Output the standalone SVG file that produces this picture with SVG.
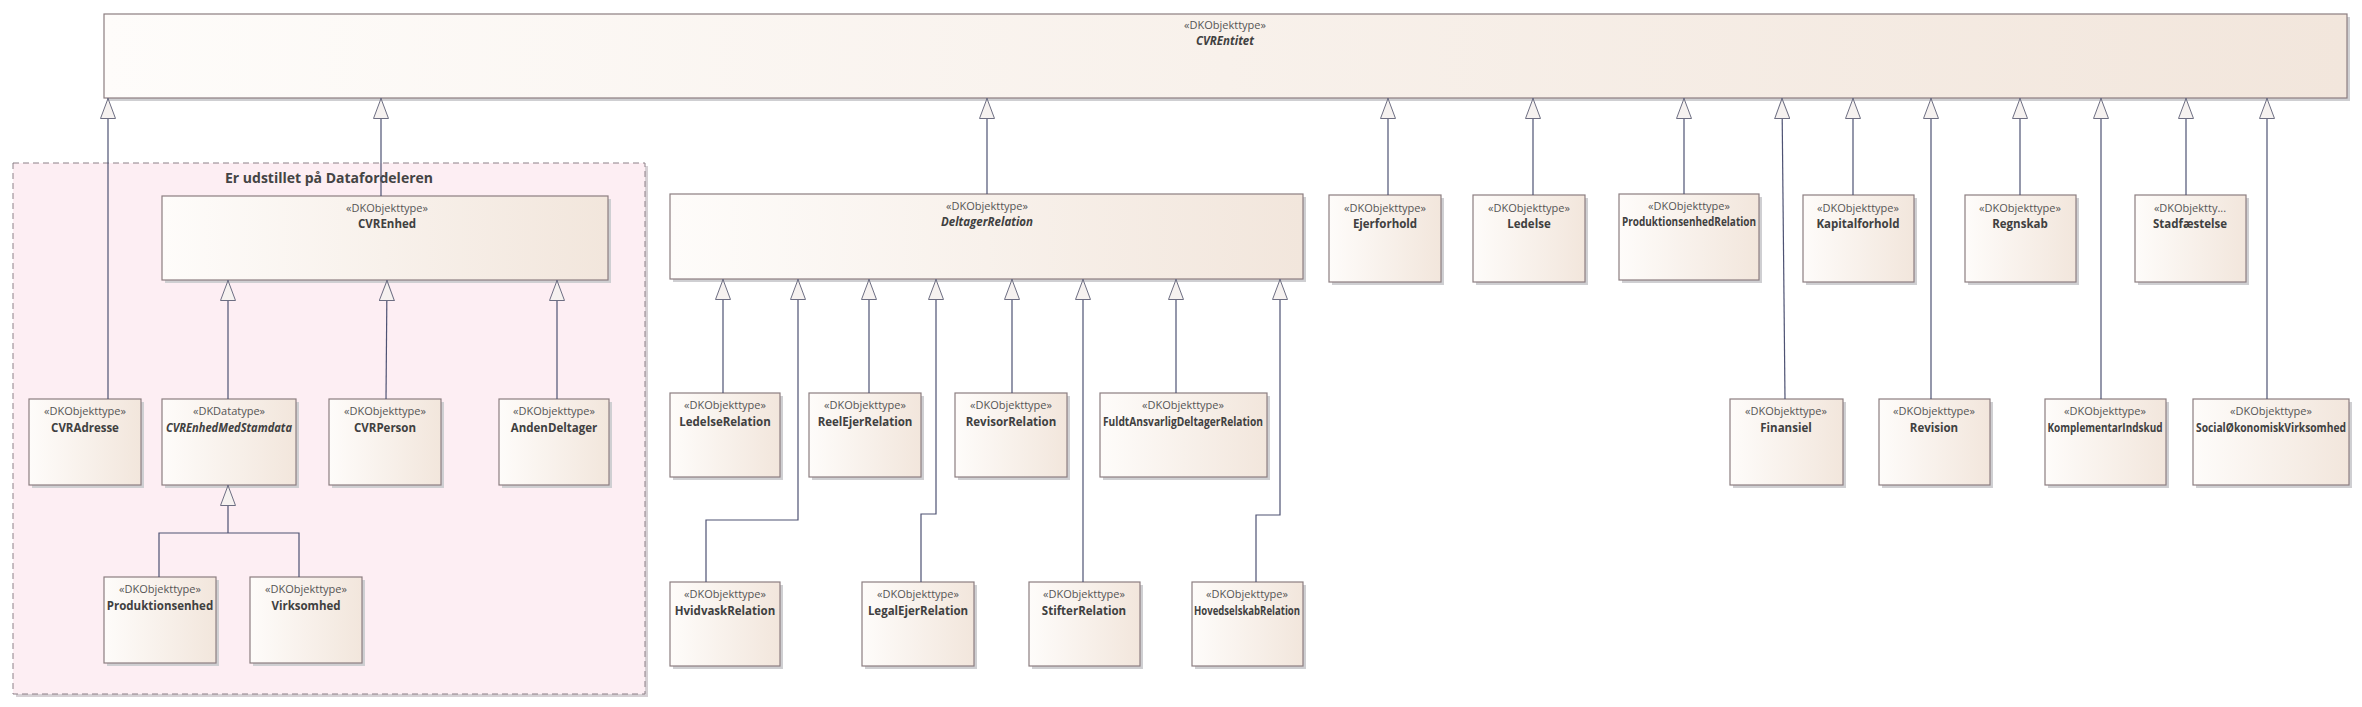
<svg xmlns="http://www.w3.org/2000/svg" width="2362" height="707" viewBox="0 0 2362 707">
<style>
.b{fill:url(#g);stroke:#8c7e80;stroke-width:1.2}
.s{fill:#cfcfd2}
.st{font-family:"Open Sans","Liberation Sans",sans-serif;font-size:11px;fill:#555;text-anchor:middle}
.n{font-family:"Open Sans","Liberation Sans",sans-serif;font-size:11.5px;font-weight:bold;fill:#404040;text-anchor:middle}
.i{font-style:italic}
.c{fill:none;stroke:#4e5273;stroke-width:1.2;marker-end:url(#tri)}
</style>
<defs>
<linearGradient id="g" x1="0" y1="0" x2="1" y2="0"><stop offset="0" stop-color="#fefcfa"/><stop offset="1" stop-color="#f2e6dc"/></linearGradient>
<marker id="tri" markerUnits="userSpaceOnUse" viewBox="0 0 21 16" markerWidth="21" markerHeight="16" refX="21" refY="8" orient="auto"><path d="M0.5,0.5 L20.5,8 L0.5,15.5 z" fill="#f6f2f0" stroke="#6d6e82" stroke-width="1"/></marker>
</defs>
<rect width="2362" height="707" fill="#fff"/>
<g id="pkg">
<rect x="16" y="166" width="632" height="531" fill="#d6d0d4"/>
<rect x="13" y="163" width="632" height="531" fill="#fdeef3" stroke="#8d8088" stroke-dasharray="6,4" stroke-width="1"/>
<text x="329" y="183" font-family="Open Sans,Liberation Sans,sans-serif" font-size="14" font-weight="bold" fill="#444" text-anchor="middle">Er udstillet på Datafordeleren</text>
</g>
<g id="CVREntitet"><rect class="s" x="107" y="17" width="2243" height="84"/><rect class="b" x="104" y="14" width="2243" height="84"/><text class="st" x="1225" y="29">«DKObjekttype»</text><text class="n i" x="1225" y="45">CVREntitet</text></g>
<g id="CVREnhed"><rect class="s" x="165" y="199" width="446" height="84"/><rect class="b" x="162" y="196" width="446" height="84"/><text class="st" x="387" y="212">«DKObjekttype»</text><text class="n" x="387" y="228">CVREnhed</text></g>
<g id="CVRAdresse"><rect class="s" x="32" y="402" width="112" height="86"/><rect class="b" x="29" y="399" width="112" height="86"/><text class="st" x="85" y="415">«DKObjekttype»</text><text class="n" x="85" y="432">CVRAdresse</text></g>
<g id="CVREnhedMedStamdata"><rect class="s" x="165" y="402" width="134" height="86"/><rect class="b" x="162" y="399" width="134" height="86"/><text class="st" x="229" y="415">«DKDatatype»</text><text class="n i" x="229" y="432" textLength="126" lengthAdjust="spacingAndGlyphs">CVREnhedMedStamdata</text></g>
<g id="CVRPerson"><rect class="s" x="332" y="402" width="112" height="86"/><rect class="b" x="329" y="399" width="112" height="86"/><text class="st" x="385" y="415">«DKObjekttype»</text><text class="n" x="385" y="432">CVRPerson</text></g>
<g id="AndenDeltager"><rect class="s" x="502" y="402" width="110" height="86"/><rect class="b" x="499" y="399" width="110" height="86"/><text class="st" x="554" y="415">«DKObjekttype»</text><text class="n" x="554" y="432">AndenDeltager</text></g>
<g id="Produktionsenhed"><rect class="s" x="107" y="580" width="112" height="86"/><rect class="b" x="104" y="577" width="112" height="86"/><text class="st" x="160" y="593">«DKObjekttype»</text><text class="n" x="160" y="610">Produktionsenhed</text></g>
<g id="Virksomhed"><rect class="s" x="253" y="580" width="112" height="86"/><rect class="b" x="250" y="577" width="112" height="86"/><text class="st" x="306" y="593">«DKObjekttype»</text><text class="n" x="306" y="610">Virksomhed</text></g>
<g id="DeltagerRelation"><rect class="s" x="673" y="197" width="633" height="85"/><rect class="b" x="670" y="194" width="633" height="85"/><text class="st" x="987" y="210">«DKObjekttype»</text><text class="n i" x="987" y="226">DeltagerRelation</text></g>
<g id="LedelseRelation"><rect class="s" x="673" y="396" width="110" height="84"/><rect class="b" x="670" y="393" width="110" height="84"/><text class="st" x="725" y="409">«DKObjekttype»</text><text class="n" x="725" y="426">LedelseRelation</text></g>
<g id="ReelEjerRelation"><rect class="s" x="812" y="396" width="112" height="84"/><rect class="b" x="809" y="393" width="112" height="84"/><text class="st" x="865" y="409">«DKObjekttype»</text><text class="n" x="865" y="426">ReelEjerRelation</text></g>
<g id="RevisorRelation"><rect class="s" x="958" y="396" width="112" height="84"/><rect class="b" x="955" y="393" width="112" height="84"/><text class="st" x="1011" y="409">«DKObjekttype»</text><text class="n" x="1011" y="426">RevisorRelation</text></g>
<g id="FuldtAnsvarligDeltagerRelation"><rect class="s" x="1103" y="396" width="167" height="84"/><rect class="b" x="1100" y="393" width="167" height="84"/><text class="st" x="1183" y="409">«DKObjekttype»</text><text class="n" x="1183" y="426" textLength="160" lengthAdjust="spacingAndGlyphs">FuldtAnsvarligDeltagerRelation</text></g>
<g id="HvidvaskRelation"><rect class="s" x="673" y="585" width="110" height="84"/><rect class="b" x="670" y="582" width="110" height="84"/><text class="st" x="725" y="598">«DKObjekttype»</text><text class="n" x="725" y="615">HvidvaskRelation</text></g>
<g id="LegalEjerRelation"><rect class="s" x="865" y="585" width="112" height="84"/><rect class="b" x="862" y="582" width="112" height="84"/><text class="st" x="918" y="598">«DKObjekttype»</text><text class="n" x="918" y="615">LegalEjerRelation</text></g>
<g id="StifterRelation"><rect class="s" x="1032" y="585" width="111" height="84"/><rect class="b" x="1029" y="582" width="111" height="84"/><text class="st" x="1084" y="598">«DKObjekttype»</text><text class="n" x="1084" y="615">StifterRelation</text></g>
<g id="HovedselskabRelation"><rect class="s" x="1195" y="585" width="111" height="84"/><rect class="b" x="1192" y="582" width="111" height="84"/><text class="st" x="1247" y="598">«DKObjekttype»</text><text class="n" x="1247" y="615" textLength="106" lengthAdjust="spacingAndGlyphs">HovedselskabRelation</text></g>
<g id="Ejerforhold"><rect class="s" x="1332" y="198" width="112" height="87"/><rect class="b" x="1329" y="195" width="112" height="87"/><text class="st" x="1385" y="212">«DKObjekttype»</text><text class="n" x="1385" y="228">Ejerforhold</text></g>
<g id="Ledelse"><rect class="s" x="1476" y="198" width="112" height="87"/><rect class="b" x="1473" y="195" width="112" height="87"/><text class="st" x="1529" y="212">«DKObjekttype»</text><text class="n" x="1529" y="228">Ledelse</text></g>
<g id="ProduktionsenhedRelation"><rect class="s" x="1622" y="197" width="140" height="86"/><rect class="b" x="1619" y="194" width="140" height="86"/><text class="st" x="1689" y="210">«DKObjekttype»</text><text class="n" x="1689" y="226" textLength="134" lengthAdjust="spacingAndGlyphs">ProduktionsenhedRelation</text></g>
<g id="Kapitalforhold"><rect class="s" x="1806" y="198" width="111" height="87"/><rect class="b" x="1803" y="195" width="111" height="87"/><text class="st" x="1858" y="212">«DKObjekttype»</text><text class="n" x="1858" y="228">Kapitalforhold</text></g>
<g id="Regnskab"><rect class="s" x="1968" y="198" width="111" height="87"/><rect class="b" x="1965" y="195" width="111" height="87"/><text class="st" x="2020" y="212">«DKObjekttype»</text><text class="n" x="2020" y="228">Regnskab</text></g>
<g id="Stadfaestelse"><rect class="s" x="2138" y="198" width="111" height="87"/><rect class="b" x="2135" y="195" width="111" height="87"/><text class="st" x="2190" y="212">«DKObjektty...</text><text class="n" x="2190" y="228">Stadfæstelse</text></g>
<g id="Finansiel"><rect class="s" x="1733" y="402" width="113" height="86"/><rect class="b" x="1730" y="399" width="113" height="86"/><text class="st" x="1786" y="415">«DKObjekttype»</text><text class="n" x="1786" y="432">Finansiel</text></g>
<g id="Revision"><rect class="s" x="1882" y="402" width="111" height="86"/><rect class="b" x="1879" y="399" width="111" height="86"/><text class="st" x="1934" y="415">«DKObjekttype»</text><text class="n" x="1934" y="432">Revision</text></g>
<g id="KomplementarIndskud"><rect class="s" x="2048" y="402" width="121" height="86"/><rect class="b" x="2045" y="399" width="121" height="86"/><text class="st" x="2105" y="415">«DKObjekttype»</text><text class="n" x="2105" y="432" textLength="115" lengthAdjust="spacingAndGlyphs">KomplementarIndskud</text></g>
<g id="SocialOekonomiskVirksomhed"><rect class="s" x="2196" y="402" width="156" height="86"/><rect class="b" x="2193" y="399" width="156" height="86"/><text class="st" x="2271" y="415">«DKObjekttype»</text><text class="n" x="2271" y="432" textLength="150" lengthAdjust="spacingAndGlyphs">SocialØkonomiskVirksomhed</text></g>
<g id="connectors">
<path class="c" d="M108,399 V98"/>
<path class="c" d="M381,196 V98"/>
<path class="c" d="M987,194 V98"/>
<path class="c" d="M1388,195 V98"/>
<path class="c" d="M1533,195 V98"/>
<path class="c" d="M1684,194 V98"/>
<path class="c" d="M1853,195 V98"/>
<path class="c" d="M2020,195 V98"/>
<path class="c" d="M2186,195 V98"/>
<path class="c" d="M1785,399 L1782,98"/>
<path class="c" d="M1931,399 V98"/>
<path class="c" d="M2101,399 V98"/>
<path class="c" d="M2267,399 V98"/>
<path class="c" d="M228,399 V280"/>
<path class="c" d="M386,399 L387,280"/>
<path class="c" d="M557,399 V280"/>
<path class="c" d="M159,577 V533 H299 V577 M228,533 V485"/>
<path class="c" d="M723,393 V279"/>
<path class="c" d="M869,393 V279"/>
<path class="c" d="M1012,393 V279"/>
<path class="c" d="M1176,393 V279"/>
<path class="c" d="M706,582 V520 H798 V279"/>
<path class="c" d="M921,582 V514 H936 V279"/>
<path class="c" d="M1083,582 V279"/>
<path class="c" d="M1256,582 V515 H1280 V279"/>
</g>
</svg>
